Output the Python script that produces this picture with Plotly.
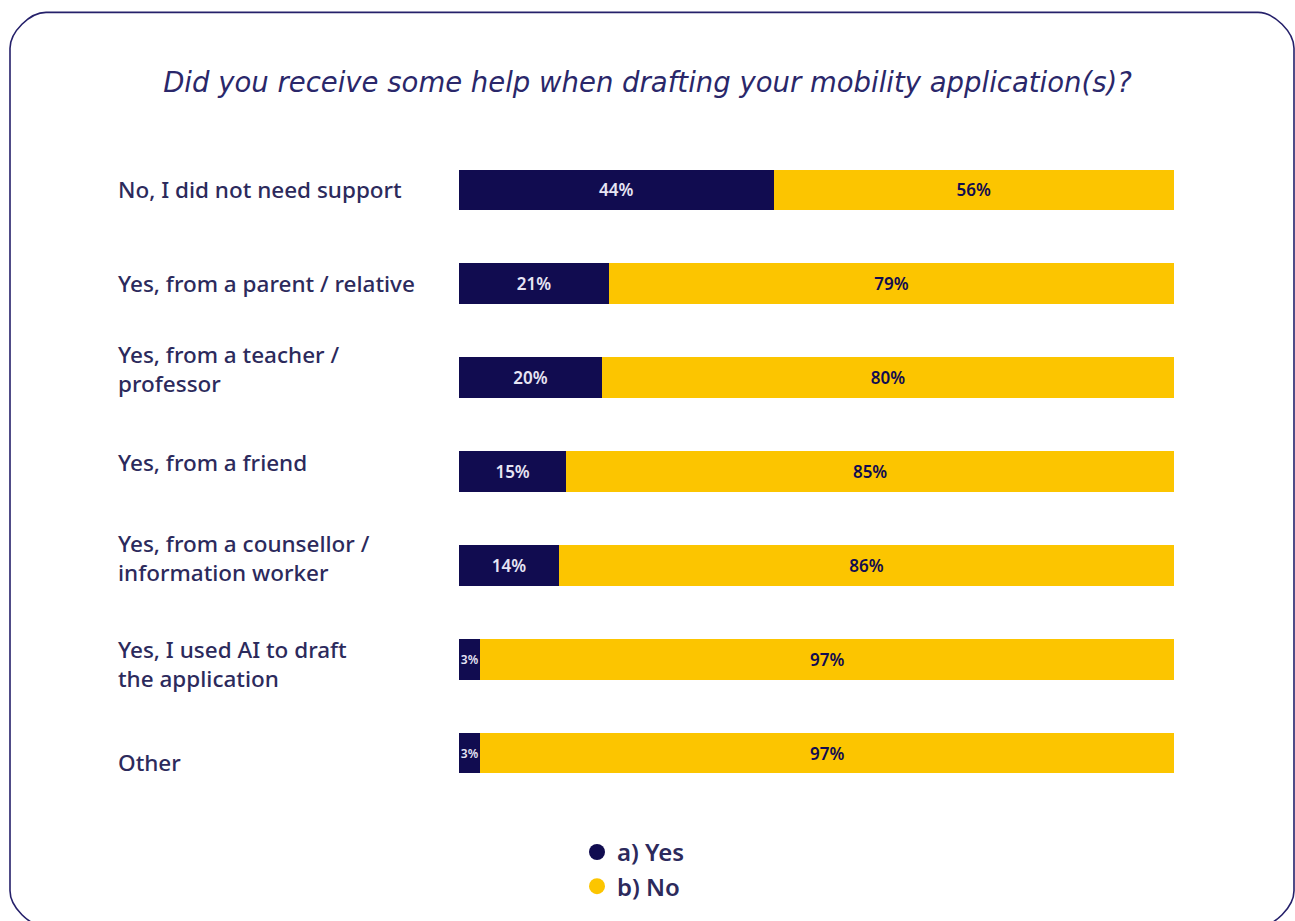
import plotly.graph_objects as go

# Survey question and answer options
title_text = "Did you receive some help when drafting your mobility application(s)?"
categories = [
    "No, I did not need support",
    "Yes, from a parent / relative",
    "Yes, from a teacher /<br>professor",
    "Yes, from a friend",
    "Yes, from a counsellor /<br>information worker",
    "Yes, I used AI to draft<br>the application",
    "Other",
]
yes_pct = [44, 21, 20, 15, 14, 3, 3]
no_pct = [56, 79, 80, 85, 86, 97, 97]
series_names = ["a) Yes", "b) No"]

NAVY = "#110c50"
YELLOW = "#fcc500"
TEXT = "#2c2a5c"
FONT = "Noto Sans"

W, H = 1295, 921
L, R, T, B = 459, 121, 143, 119
PW, PH = W - L - R, H - T - B


def px(x):
    return (x - L) / PW


def py(y):
    return (H - B - y) / PH


# Narrow segments get a smaller label so it stays inside the bar
yes_text_size = [17 if v >= 10 else 12 for v in yes_pct]

fig = go.Figure()

fig.add_trace(go.Bar(
    y=categories, x=yes_pct, orientation="h", name=series_names[0],
    marker=dict(color=NAVY, line=dict(width=0)),
    text=[f"{v}%" for v in yes_pct], textposition="inside",
    insidetextanchor="middle", textangle=0, constraintext="none",
    textfont=dict(family=FONT, size=yes_text_size, color="#e6e4f4", weight=600),
    showlegend=False, hoverinfo="skip",
))
fig.add_trace(go.Bar(
    y=categories, x=no_pct, orientation="h", name=series_names[1],
    marker=dict(color=YELLOW, line=dict(width=0)),
    text=[f"{v}%" for v in no_pct], textposition="inside",
    insidetextanchor="middle", textangle=0,
    textfont=dict(family=FONT, size=17, color=NAVY, weight=600),
    showlegend=False, hoverinfo="skip",
))

# Legend entries drawn as round markers
for name, col in zip(series_names, [NAVY, YELLOW]):
    fig.add_trace(go.Scatter(
        x=[None], y=[None], mode="markers", name=name,
        marker=dict(color=col, size=22, symbol="circle"),
        showlegend=True,
    ))

# Left-aligned category labels
label_shift = [0, 0, 9, 9, 7, -5, -9]
for cat, dy in zip(categories, label_shift):
    fig.add_annotation(
        x=px(116), xref="paper", y=cat, yref="y", yshift=dy,
        text=cat, showarrow=False, xanchor="left", align="left",
        font=dict(family=FONT, size=22.5, color=TEXT, weight=500),
    )

# Rounded frame around the whole chart
x0, x1, y0, y1, r = 10, 1294, 12, 929, 36
k = 0.45 * r
path = (
    f"M {px(x0 + r)} {py(y0)} L {px(x1 - r)} {py(y0)} "
    f"C {px(x1 - r + k)} {py(y0)} {px(x1)} {py(y0 + r - k)} {px(x1)} {py(y0 + r)} "
    f"L {px(x1)} {py(y1 - r)} "
    f"C {px(x1)} {py(y1 - r + k)} {px(x1 - r + k)} {py(y1)} {px(x1 - r)} {py(y1)} "
    f"L {px(x0 + r)} {py(y1)} "
    f"C {px(x0 + r - k)} {py(y1)} {px(x0)} {py(y1 - r + k)} {px(x0)} {py(y1 - r)} "
    f"L {px(x0)} {py(y0 + r)} "
    f"C {px(x0)} {py(y0 + r - k)} {px(x0 + r - k)} {py(y0)} {px(x0 + r)} {py(y0)} Z"
)
fig.add_shape(type="path", path=path, xref="paper", yref="paper",
              line=dict(color="#25206a", width=1.6), layer="above")

fig.update_layout(
    width=W, height=H,
    margin=dict(l=L, r=R, t=T, b=B),
    paper_bgcolor="white", plot_bgcolor="white",
    barmode="stack", bargap=0.565,
    title=dict(
        text=title_text, x=0.5, xanchor="center", xref="container",
        y=1 - 82 / H, yanchor="middle", yref="container",
        font=dict(family="DejaVu Sans", size=27.5, color="#2a276a", style="italic"),
    ),
    xaxis=dict(range=[0, 100], visible=False, fixedrange=True),
    yaxis=dict(autorange="reversed", showticklabels=False, showgrid=False,
               zeroline=False, fixedrange=True),
    legend=dict(
        x=px(577), xanchor="left", y=py(832), yanchor="top",
        orientation="v", traceorder="normal",
        font=dict(family=FONT, size=24, color=TEXT, weight=600),
        itemsizing="trace", bgcolor="rgba(0,0,0,0)", tracegroupgap=0,
    ),
    showlegend=True,
)

fig.write_html("out.html")
